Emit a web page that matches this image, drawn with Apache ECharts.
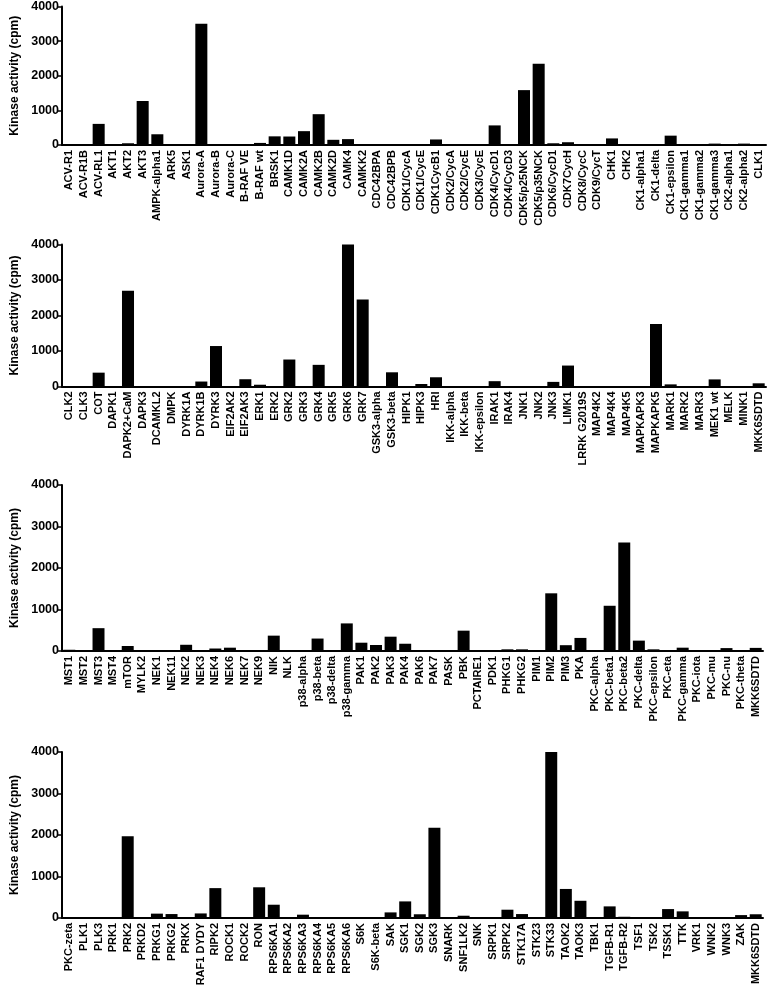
<!DOCTYPE html>
<html>
<head>
<meta charset="utf-8">
<script src="https://cdn.jsdelivr.net/npm/echarts@6/dist/echarts.min.js"></script>
<style>html,body{margin:0;padding:0;background:#fff;}#c{width:767px;height:996px;}</style>
</head>
<body>
<div id="c"></div>
<script>
var cats1 = ["ACV-R1","ACV-R1B","ACV-RL1","AKT1","AKT2","AKT3","AMPK-alpha1","ARK5","ASK1","Aurora-A","Aurora-B","Aurora-C","B-RAF VE","B-RAF wt","BRSK1","CAMK1D","CAMK2A","CAMK2B","CAMK2D","CAMK4","CAMKK2","CDC42BPA","CDC42BPB","CDK1/CycA","CDK1/CycE","CDK1CycB1","CDK2/CycA","CDK2/CycE","CDK3/CycE","CDK4/CycD1","CDK4/CycD3","CDK5/p25NCK","CDK5/p35NCK","CDK6/CycD1","CDK7CycH","CDK8/CycC","CDK9/CycT","CHK1","CHK2","CK1-alpha1","CK1-delta","CK1-epsilon","CK1-gamma1","CK1-gamma2","CK1-gamma3","CK2-alpha1","CK2-alpha2","CLK1"];
var vals1 = [0,0,610,0,50,1270,310,0,0,3500,0,0,0,60,250,245,400,890,150,170,0,10,0,0,0,160,0,10,0,566,0,1585,2350,50,80,0,0,190,0,0,0,270,0,0,40,0,40,0];

var cats2 = ["CLK2","CLK3","COT","DAPK1","DAPK2+CaM","DAPK3","DCAMKL2","DMPK","DYRK1A","DYRK1B","DYRK3","EIF2AK2","EIF2AK3","ERK1","ERK2","GRK2","GRK3","GRK4","GRK5","GRK6","GRK7","GSK3-alpha","GSK3-beta","HIPK1","HIPK3","HRI","IKK-alpha","IKK-beta","IKK-epsilon","IRAK1","IRAK4","JNK1","JNK2","JNK3","LIMK1","LRRK G2019S","MAP4K2","MAP4K4","MAP4K5","MAPKAPK3","MAPKAPK5","MARK1","MARK2","MARK3","MEK1 wt","MELK","MINK1","MKK6SDTD"];
var vals2 = [0,0,390,0,2700,0,0,0,0,140,1140,0,205,50,10,760,0,610,0,4000,2450,0,400,0,70,260,0,5,5,150,0,0,0,130,590,0,0,0,0,0,1760,60,0,0,200,0,0,90];

var cats3 = ["MST1","MST2","MST3","MST4","mTOR","MYLK2","NEK1","NEK11","NEK2","NEK3","NEK4","NEK6","NEK7","NEK9","NIK","NLK","p38-alpha","p38-beta","p38-delta","p38-gamma","PAK1","PAK2","PAK3","PAK4","PAK6","PAK7","PASK","PBK","PCTAIRE1","PDK1","PHKG1","PHKG2","PIM1","PIM2","PIM3","PKA","PKC-alpha","PKC-beta1","PKC-beta2","PKC-delta","PKC-epsilon","PKC-eta","PKC-gamma","PKC-iota","PKC-mu","PKC-nu","PKC-theta","MKK6SDTD"];
var vals3 = [30,0,550,0,120,5,0,10,150,0,60,80,0,0,370,5,0,300,0,665,200,145,345,175,0,0,0,490,0,0,40,40,0,1390,140,315,5,1090,2615,250,40,0,80,0,0,70,0,75];

var cats4 = ["PKC-zeta","PLK1","PLK3","PRK1","PRK2","PRKD2","PRKG1","PRKG2","PRKX","RAF1 DYDY","RIPK2","ROCK1","ROCK2","RON","RPS6KA1","RPS6KA2","RPS6KA3","RPS6KA4","RPS6KA5","RPS6KA6","S6K","S6K-beta","SAK","SGK1","SGK2","SGK3","SNARK","SNF1LK2","SNK","SRPK1","SRPK2","STK17A","STK23","STK33","TAOK2","TAOK3","TBK1","TGFB-R1","TGFB-R2","TSF1","TSK2","TSSK1","TTK","VRK1","WNK2","WNK3","ZAK","MKK6SDTD"];
var vals4 = [0,0,0,0,1970,0,105,95,0,110,720,0,0,740,320,0,80,0,0,0,0,0,135,400,90,2175,0,55,0,0,200,95,20,4000,700,415,0,280,30,0,0,215,160,0,5,0,70,90];

var yTicks = [0, 1000, 2000, 3000, 4000];
var yTitle = "Kinase activity (cpm)";

var panels = [
  {cats: cats1, vals: vals1, top: 3.5, height: 141.5, right: 1},
  {cats: cats2, vals: vals2, top: 244.5, height: 142, right: 1},
  {cats: cats3, vals: vals3, top: 485, height: 166, right: 4},
  {cats: cats4, vals: vals4, top: 752, height: 166, right: 4}
];

var FONT = "'Liberation Sans', Arial, sans-serif";
var grid = [], xAxis = [], yAxis = [], series = [];
panels.forEach(function (p, i) {
  grid.push({left: 62, right: p.right, top: p.top, height: p.height, containLabel: false});
  xAxis.push({
    type: 'category', gridIndex: i, data: p.cats,
    boundaryGap: true,
    axisLine: {lineStyle: {color: '#000', width: 2}},
    axisTick: {alignWithLabel: true, length: 4, lineStyle: {color: '#000', width: 1.5}},
    axisLabel: {interval: 0, rotate: 90, color: '#000', fontWeight: 'bold', fontSize: 11, fontFamily: FONT, margin: 5}
  });
  yAxis.push({
    type: 'value', gridIndex: i, min: yTicks[0], max: yTicks[yTicks.length - 1], interval: 1000,
    name: yTitle, nameLocation: 'middle', nameGap: 40,
    nameTextStyle: {color: '#000', fontWeight: 'bold', fontSize: 12, fontFamily: FONT},
    axisLine: {show: true, lineStyle: {color: '#000', width: 2}},
    axisTick: {show: true, length: 4, lineStyle: {color: '#000', width: 1.5}},
    splitLine: {show: false},
    axisLabel: {color: '#000', fontWeight: 'bold', fontSize: 12.5, fontFamily: FONT, margin: 3,
      formatter: function (v) { return String(v); }}
  });
  series.push({
    type: 'bar', xAxisIndex: i, yAxisIndex: i, data: p.vals,
    barCategoryGap: '18%',
    itemStyle: {color: '#000'},
    animation: false
  });
});

var chart = echarts.init(document.getElementById('c'), null, {renderer: 'canvas'});
chart.setOption({backgroundColor: '#fff', animation: false, grid: grid, xAxis: xAxis, yAxis: yAxis, series: series});
</script>
</body>
</html>
